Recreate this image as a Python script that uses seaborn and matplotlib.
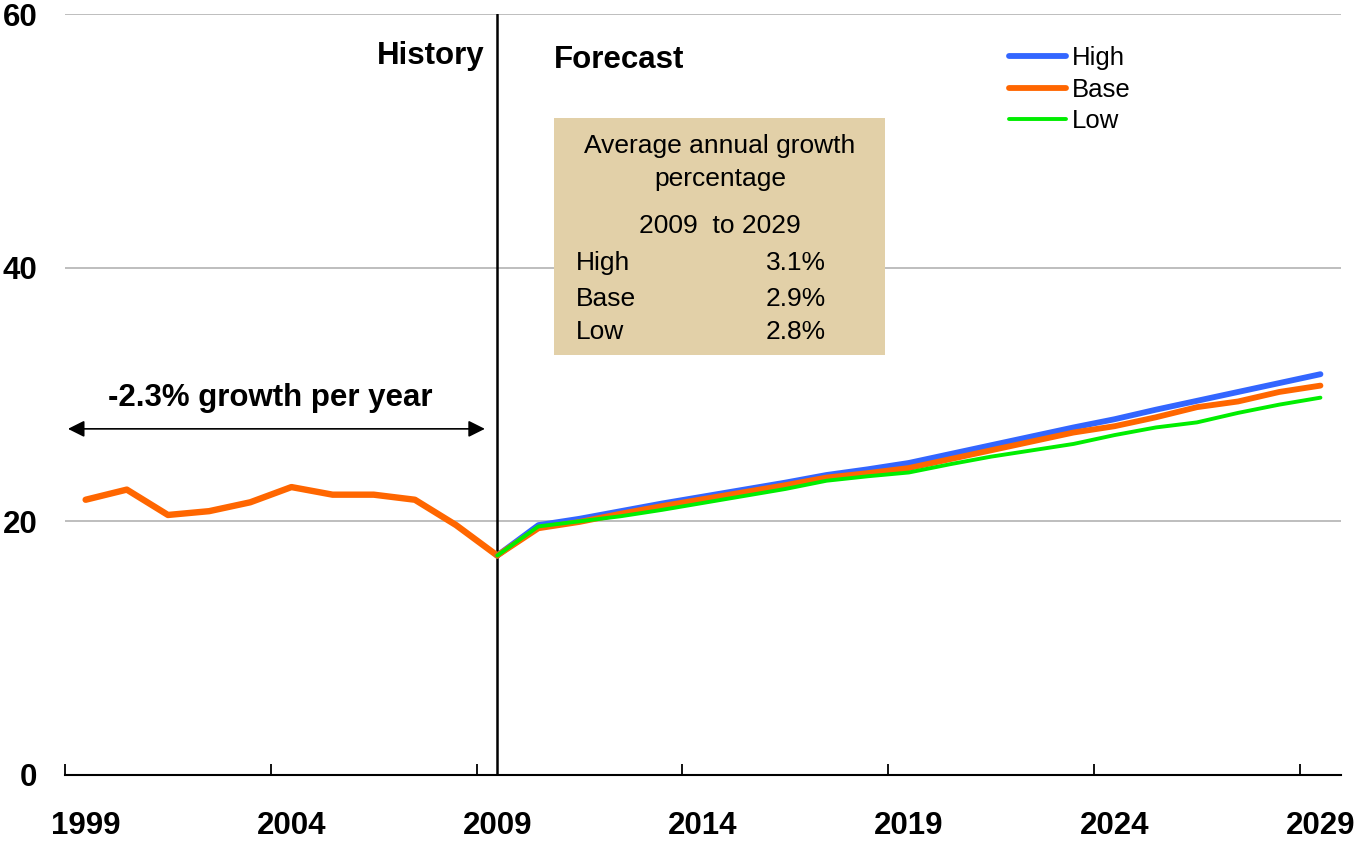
import numpy as np
import pandas as pd
import seaborn as sns
import matplotlib.pyplot as plt
from matplotlib.patches import Rectangle

# data
hist_years = list(range(1999, 2010))
hist_vals = [21.7, 22.5, 20.5, 20.8, 21.5, 22.7, 22.1, 22.1, 21.7, 19.7, 17.3]

fc_years = list(range(2009, 2030))
high = [17.3, 19.7, 20.2, 20.8, 21.4, 21.95, 22.5, 23.05, 23.65, 24.1, 24.6,
        25.3, 26.0, 26.7, 27.4, 28.05, 28.8, 29.5, 30.2, 30.9, 31.6]
base = [17.3, 19.45, 19.95, 20.6, 21.2, 21.75, 22.3, 22.85, 23.45, 23.8, 24.2,
        24.9, 25.6, 26.3, 27.0, 27.5, 28.2, 29.0, 29.45, 30.2, 30.7]
low = [17.3, 19.6, 20.0, 20.4, 20.9, 21.45, 22.0, 22.55, 23.2, 23.55, 23.85,
       24.5, 25.1, 25.6, 26.1, 26.8, 27.4, 27.8, 28.55, 29.2, 29.75]

label_years = [1999, 2004, 2009, 2014, 2019, 2024, 2029]
growth_names = ["High", "Base", "Low"]
growth_pcts = ["3.1%", "2.9%", "2.8%"]

sns.set_style("white")
plt.rcParams['font.family'] = ['Liberation Sans', 'DejaVu Sans']
plt.rcParams['text.color'] = 'black'

fig, ax = plt.subplots(figsize=(13.58, 8.44), dpi=100)
fig.subplots_adjust(left=0.0479, right=0.9875, bottom=0.0818, top=0.9834)

hist_df = pd.DataFrame({'Year': hist_years, 'Value': hist_vals})
fc_df = pd.DataFrame({'Year': fc_years, 'High': high, 'Base': base, 'Low': low})

sns.lineplot(data=hist_df, x='Year', y='Value', color='#FF6600', lw=4.6,
             ax=ax, legend=False, solid_capstyle='round')
sns.lineplot(data=fc_df, x='Year', y='High', color='#3366FF', lw=4.2,
             ax=ax, label='High', solid_capstyle='round')
sns.lineplot(data=fc_df, x='Year', y='Base', color='#FF6600', lw=4.2,
             ax=ax, label='Base', solid_capstyle='round')
sns.lineplot(data=fc_df, x='Year', y='Low', color='#00EE00', lw=2.8,
             ax=ax, label='Low', solid_capstyle='round')

ax.axvline(2009, color='black', lw=1.8, zorder=1)

ax.set_xlim(1998.5, 2029.5)
ax.set_ylim(0, 60)
ax.set_xlabel("")
ax.set_ylabel("")

ax.set_xticks(np.arange(1998.5, 2029, 5))
ax.set_xticklabels([])
ax.set_xticks(label_years, minor=True)
ax.set_xticklabels([str(y) for y in label_years], minor=True,
                   fontsize=22.5, fontweight='bold')
ax.tick_params(axis='x', which='major', direction='in', length=8, width=1.3,
               color='black', bottom=True)
ax.tick_params(axis='x', which='minor', length=0, pad=26, labelcolor='black')

ax.set_yticks([0, 20, 40, 60])
ax.set_yticklabels(['0', '20', '40', '60'], fontsize=22.5, fontweight='bold')
ax.tick_params(axis='y', length=0, pad=20, labelcolor='black')
ax.yaxis.grid(True, color='#b3b3b3', lw=1.2)
ax.set_axisbelow(True)

for s in ['left', 'right', 'top']:
    ax.spines[s].set_visible(False)
ax.spines['bottom'].set_color('black')
ax.spines['bottom'].set_linewidth(1.5)

# headings
ax.text(2008.7, 56.65, "History", ha='right', va='center',
        fontsize=22.5, fontweight='bold')
ax.text(2010.38, 56.35, "Forecast", ha='left', va='center',
        fontsize=22.5, fontweight='bold')

# growth box
ax.add_patch(Rectangle((2010.38, 33.12), 8.04, 18.68, facecolor='#E2D0A8',
                       edgecolor='none', zorder=2))
ax.text(2014.41, 49.6, "Average annual growth", ha='center', va='center',
        fontsize=19, zorder=3)
ax.text(2014.41, 47.0, "percentage", ha='center', va='center',
        fontsize=19, zorder=3)
ax.text(2014.41, 43.3, "2009  to 2029", ha='center', va='center',
        fontsize=19, zorder=3)
for i, (n, p) in enumerate(zip(growth_names, growth_pcts)):
    yy = [40.4, 37.55, 34.9][i]
    ax.text(2010.9, yy, n, ha='left', va='center', fontsize=19, zorder=3)
    ax.text(2016.99, yy, p, ha='right', va='center', fontsize=19, zorder=3)

# historic growth arrow
ax.annotate("", xy=(1998.57, 27.29), xytext=(2008.7, 27.29),
            arrowprops=dict(arrowstyle='<|-|>', color='black', lw=1.2,
                            mutation_scale=25, shrinkA=0, shrinkB=0))
ax.text(2003.48, 29.75, "-2.3% growth per year", ha='center', va='center',
        fontsize=22.5, fontweight='bold')

leg = ax.legend(loc='upper left', bbox_to_anchor=(0.740, 0.958), frameon=False,
                fontsize=18.5, handlelength=2.2, handletextpad=0.25,
                labelspacing=0.3, borderpad=0, borderaxespad=0)

plt.savefig("out.png", dpi=100)
